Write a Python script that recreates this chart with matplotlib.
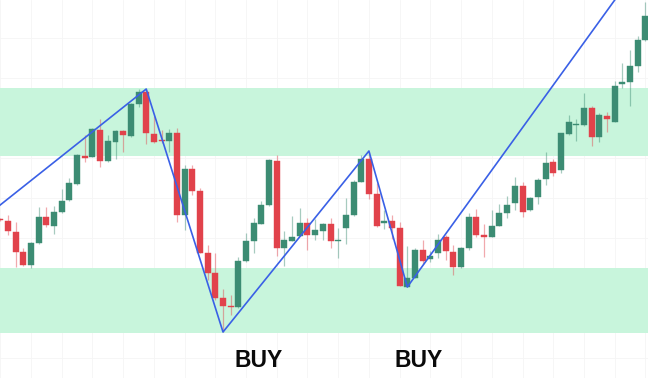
import numpy as np
import matplotlib.pyplot as plt
from matplotlib.patches import Rectangle

# candle data (open, high, low, close) in price units
opens = [159, 157, 146, 126, 113, 135, 161, 152, 166, 178,
         194, 222, 221, 248, 217, 236, 247, 242, 274, 286,
         244, 238, 237, 245, 163, 209, 187, 125, 105, 80,
         72, 71, 117, 137, 154, 173, 217, 130, 137, 142,
         155, 143, 147, 154, 137, 150, 163, 196, 219, 184,
         155, 157, 150, 91, 100, 128, 119, 125, 141, 126,
         111, 130, 161, 143, 141, 152, 165, 175, 192, 168,
         181, 199, 216, 208, 244, 253, 253, 270, 241, 262,
         256, 294, 296, 312, 338]
highs = [160, 163, 156, 130, 136, 171, 171, 172, 189, 200,
         224, 243, 250, 259, 243, 248, 248, 275, 289, 289,
         262, 248, 249, 250, 213, 213, 190, 133, 125, 89,
         83, 121, 145, 160, 177, 219, 223, 147, 162, 170,
         160, 159, 155, 160, 150, 180, 198, 223, 226, 195,
         168, 163, 156, 132, 130, 138, 127, 144, 143, 133,
         131, 165, 169, 154, 168, 174, 182, 201, 196, 181,
         200, 226, 219, 245, 263, 259, 285, 272, 265, 266,
         297, 315, 328, 342, 376]
lows = [157, 143, 111, 112, 110, 134, 151, 144, 165, 177,
        193, 216, 221, 211, 216, 219, 226, 241, 271, 234,
        235, 235, 226, 156, 148, 183, 125, 98, 78, 46,
        63, 70, 116, 125, 154, 172, 122, 112, 137, 142,
        128, 138, 138, 130, 120, 134, 162, 196, 179, 151,
        149, 139, 92, 91, 100, 114, 116, 120, 118, 103,
        110, 128, 141, 121, 141, 152, 160, 168, 161, 167,
        174, 193, 202, 205, 243, 237, 252, 232, 236, 246,
        256, 290, 272, 306, 337]
closes = [158, 147, 126, 113, 135, 161, 153, 166, 177, 195,
          223, 220, 249, 217, 237, 247, 243, 274, 286, 245,
          236, 237, 245, 163, 209, 187, 125, 105, 80, 72,
          71, 117, 137, 155, 173, 218, 130, 138, 141, 155,
          143, 148, 154, 137, 138, 163, 196, 219, 184, 152,
          157, 150, 92, 100, 128, 117, 122, 138, 127, 111,
          130, 161, 143, 141, 152, 165, 173, 192, 166, 180,
          198, 215, 205, 245, 256, 254, 270, 241, 263, 259,
          292, 296, 312, 338, 362]

# zigzag pivots (candle index, price)
zz_idx = [-1, 19, 29, 48, 53, 85]
zz_price = [167, 289, 46, 227, 91, 431]

# support / resistance zones (low, high)
zones = [(222, 290), (45, 110.5)]

# buy labels (candle index)
buy_idx = [33.6, 54.5]
buy_text = ["BUY", "BUY"]

green = '#3c8c73'
red = '#e1424b'
zone_col = '#c8f5dc'
blue = '#3a60e6'

fig = plt.figure(figsize=(6.48, 3.78), dpi=100)
ax = fig.add_axes([0, 0, 1, 1])
ax.set_xlim(-0.04, 84.34)
ax.set_ylim(0, 378)
ax.axis('off')

# faint grid
for gx in range(0, 85, 4):
    ax.axvline(gx, color='#f5f5f5', lw=0.6, zorder=0)
for gy in range(20, 378, 40):
    ax.axhline(gy, color='#f5f5f5', lw=0.6, zorder=0)

for lo, hi in zones:
    ax.axhspan(lo, hi, color=zone_col, lw=0, zorder=1)

w = 0.78
for i in range(len(opens)):
    o, h, l, c = opens[i], highs[i], lows[i], closes[i]
    col = green if c >= o else red
    ax.plot([i, i], [l, h], color=col, alpha=0.45, lw=0.9, zorder=2,
            solid_capstyle='butt')
    bottom = min(o, c)
    height = max(abs(c - o), 1.2)
    ax.add_patch(Rectangle((i - w / 2, bottom), w, height, facecolor=col,
                           edgecolor=col, lw=0.3, zorder=3))

ax.plot(zz_idx, zz_price, color=blue, lw=1.2, zorder=4)

for bx, t in zip(buy_idx, buy_text):
    ax.text(bx, 17.5, t, ha='center', va='center', fontsize=16.5,
            fontweight='bold', family='Liberation Sans', color='#0a0a0a')

fig.savefig('out.png', dpi=100)
